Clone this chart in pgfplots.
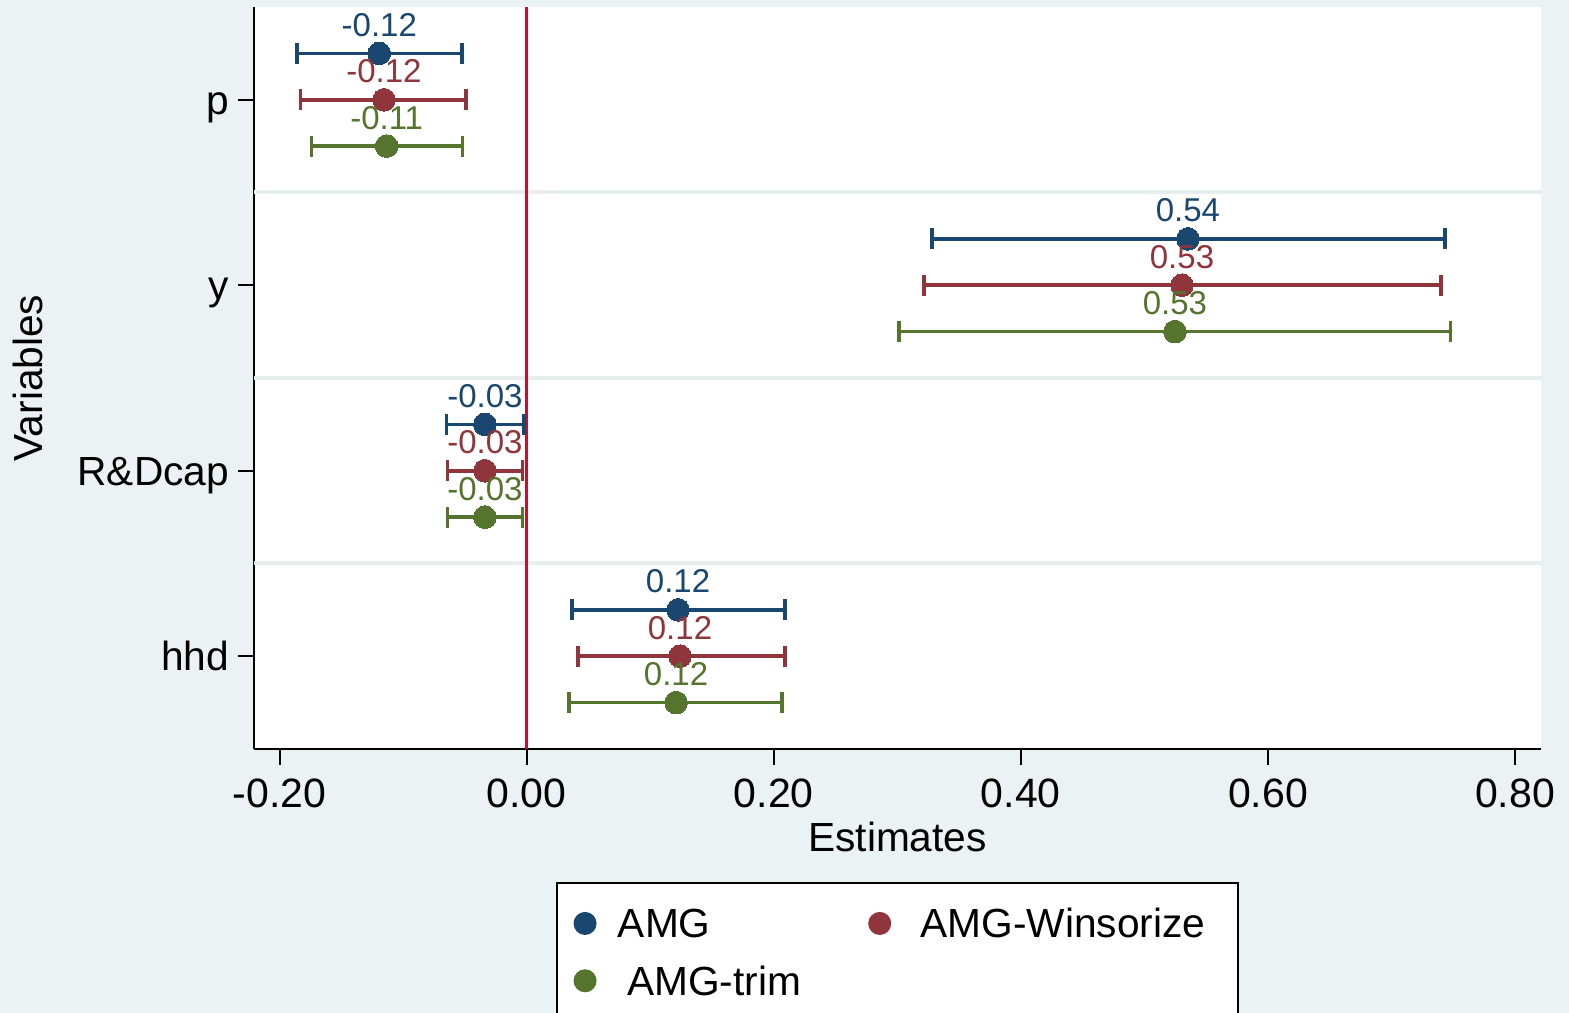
\documentclass[border=0pt]{standalone}
\usepackage{fontspec}
\setmainfont{Liberation Sans}
\usepackage{pgfplots}
\usepackage{pgfplotstable}
\pgfplotsset{compat=1.18}
\definecolor{bgc}{HTML}{EAF2F3}
\definecolor{gridc}{HTML}{E6EEF0}
\definecolor{cA}{HTML}{1A476F}
\definecolor{cW}{HTML}{90353B}
\definecolor{cT}{HTML}{55752F}
\definecolor{zline}{HTML}{C8102E}

\pgfplotstableread{
y x ep em lab
4.25 -0.1193 0.0669 0.0666 -0.12
3.25 0.5352 0.2081 0.2072 0.54
2.25 -0.0338 0.0316 0.0310 -0.03
1.25 0.1225 0.0866 0.0858 0.12
}\tA
\pgfplotstableread{
y x ep em lab
4.00 -0.1155 0.0664 0.0674 -0.12
3.00 0.5304 0.2097 0.2089 0.53
2.00 -0.0338 0.0306 0.0301 -0.03
1.00 0.1241 0.0850 0.0826 0.12
}\tW
\pgfplotstableread{
y x ep em lab
3.75 -0.1133 0.0612 0.0607 -0.11
2.75 0.5247 0.2229 0.2234 0.53
1.75 -0.0338 0.0306 0.0301 -0.03
0.75 0.1209 0.0857 0.0866 0.12
}\tT

\pgfplotsset{
  coefplot/.style={
    forget plot,
    color=#1,
    mark=*, mark size=3.4pt,
    mark options={fill=#1, draw=#1, line width=0pt},
    only marks,
    error bars/.cd,
      x dir=both, x explicit,
      error bar style={line width=1.1pt, color=#1},
      error mark options={rotate=90, mark size=3.15pt, line width=1pt, color=#1},
    /pgfplots/.cd,
    nodes near coords={\pgfplotspointmeta},
    point meta=explicit symbolic,
    every node near coord/.append style={anchor=base, yshift=5.1pt,
      inner sep=0pt, font=\fontsize{9.9}{11}\selectfont, text=#1},
  }
}

\begin{document}
\begin{tikzpicture}
\useasboundingbox (0,0) rectangle (470.7pt,303.9pt);
\clip (0,0) rectangle (470.7pt,303.9pt);
\fill[bgc] (0,0) rectangle (470.7pt,303.9pt);
\begin{axis}[
  at={(76.2pt,79.2pt)}, anchor=south west,
  scale only axis, width=386.1pt, height=222.6pt,
  xmin=-0.2207, xmax=0.821, ymin=0.5, ymax=4.5,
  axis background/.style={fill=white},
  axis x line*=bottom, axis y line*=left,
  axis line style={black, line width=0.6pt},
  tick align=outside, major tick length=4.8pt,
  tick style={black, line width=0.6pt},
  xtick={-0.2,0,0.2,0.4,0.6,0.8},
  xticklabel style={/pgf/number format/.cd, fixed, fixed zerofill, precision=2,
     assume math mode=true, /tikz/.cd,
     font=\fontsize{12.3}{14}\selectfont, anchor=base, inner sep=0pt, yshift=-12.8pt},
  ytick={1,2,3,4}, yticklabels={hhd,R\&Dcap,y,p},
  yticklabel style={font=\fontsize{12.2}{14}\selectfont, anchor=base east,
     inner sep=0pt, xshift=-2.5pt, yshift=-4.3pt},
  extra y ticks={1.5,2.5,3.5}, extra y tick labels={},
  extra y tick style={major tick length=0pt, grid=major,
     major grid style={gridc, line width=1.2pt}},
  xlabel={Estimates}, ylabel={Variables},
  xlabel style={at={(axis description cs:0.5,-0.1375)}, anchor=base,
     font=\fontsize{12.2}{14}\selectfont, inner sep=0pt},
  ylabel style={at={(axis description cs:-0.164,0.5)}, anchor=base, rotate=0,
     font=\fontsize{12.2}{14}\selectfont, inner sep=0pt},
  legend columns=2,
  legend cell align=left,
  legend style={at={(axis description cs:0.2347,-0.1792)}, anchor=north west,
     draw=black, line width=0.6pt, fill=white,
     inner xsep=4.95pt, inner ysep=7.8pt, row sep=8.5pt,
     nodes={inner sep=0pt, text height=8.7pt, text depth=0pt,
        font=\fontsize{12.2}{14}\selectfont, anchor=west},
     /tikz/every odd column/.append style={column sep=6.4pt}},
]
\addplot[zline, line width=1pt, forget plot] coordinates {(0,0.5) (0,4.5)};
\addplot[coefplot=cA] table[x=x, y=y, x error plus=ep, x error minus=em, meta=lab]{\tA};
\addplot[coefplot=cW] table[x=x, y=y, x error plus=ep, x error minus=em, meta=lab]{\tW};
\addplot[coefplot=cT] table[x=x, y=y, x error plus=ep, x error minus=em, meta=lab]{\tT};
\addlegendimage{legend image code/.code={\fill[cA] (0pt,0pt) circle (3.15pt);}}
\addlegendentry[text width=75.1pt]{AMG}
\addlegendimage{legend image code/.code={\fill[cW] (0pt,0pt) circle (3.15pt);}}
\addlegendentry[text width=92.6pt]{\hspace*{2.4pt}AMG-Winsorize}
\addlegendimage{legend image code/.code={\fill[cT] (0pt,0pt) circle (3.15pt);}}
\addlegendentry[text width=75.1pt]{\hspace*{2.8pt}AMG-trim}
\end{axis}
\end{tikzpicture}
\end{document}
